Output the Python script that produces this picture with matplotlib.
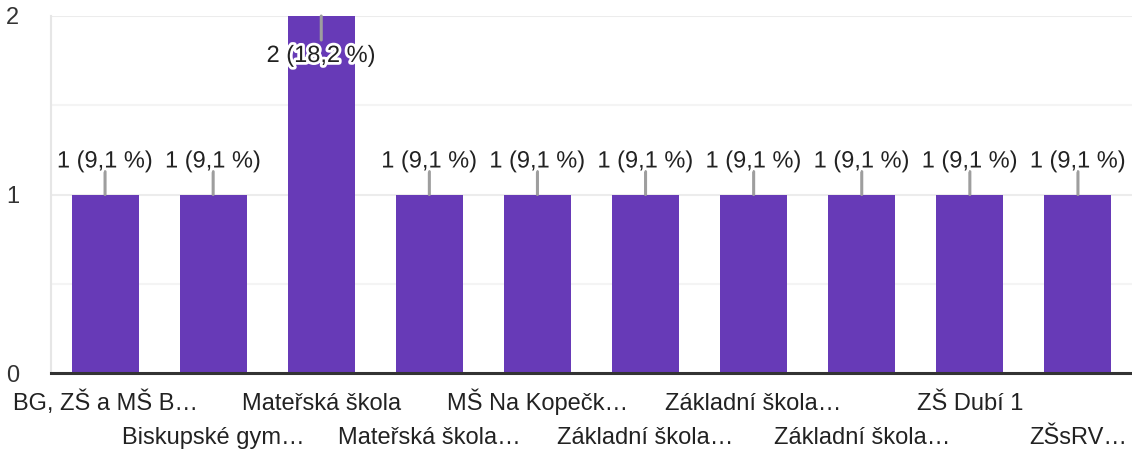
import matplotlib.pyplot as plt
import matplotlib.patheffects as pe
import numpy as np

plt.rcParams['font.family'] = ['Liberation Sans', 'DejaVu Sans']

# data
labels = ["BG, ZŠ a MŠ B…", "Biskupské gym…", "Mateřská škola", "Mateřská škola…",
          "MŠ Na Kopečk…", "Základní škola…", "Základní škola…", "Základní škola…",
          "ZŠ Dubí 1", "ZŠsRV…"]
counts = [1, 1, 2, 1, 1, 1, 1, 1, 1, 1]
total = sum(counts)

C_BAR = "#673ab7"
C_TEXT = "#222222"

fig = plt.figure(figsize=(11.32, 4.5), dpi=100)
ax = fig.add_axes([51 / 1132, 77 / 450, 1081 / 1132, 357 / 450])

x = np.arange(len(counts))
ax.bar(x, counts, width=0.62, color=C_BAR, zorder=3)

ax.set_xlim(-0.5, len(counts) - 0.5)
ax.set_ylim(0, 2)

# grid
for g in [0.5, 1.5]:
    ax.axhline(g, color="#f4f4f4", lw=1.5, zorder=1)
for g in [1, 2]:
    ax.axhline(g, color="#ececec", lw=1.5, zorder=1)

for s in ["top", "right"]:
    ax.spines[s].set_visible(False)
ax.spines["left"].set_color("#e6e6e6")
ax.spines["left"].set_linewidth(1.5)
ax.spines["bottom"].set_color("#333333")
ax.spines["bottom"].set_linewidth(2.2)
ax.spines["bottom"].set_zorder(4)

ax.set_yticks([0, 1, 2])
ax.set_yticklabels(["0", "1", "2"], fontsize=17, color="#333333")
ax.tick_params(axis="y", length=0, pad=23)

ax.set_xticks(x)
ax.set_xticklabels([])
ax.tick_params(axis="x", length=0)
for i, lab in enumerate(labels):
    off = 37 if i % 2 == 0 else 71
    ax.annotate(lab, xy=(i, 0), xytext=(0, -off), textcoords="offset pixels",
                ha="center", va="baseline", fontsize=17, color=C_TEXT,
                annotation_clip=False)

# value labels
ymax = max(counts)
for i, v in enumerate(counts):
    pct = v / total * 100
    txt = f"{v} ({pct:.1f} %)".replace(".", ",")
    if v < ymax:
        line_end, text_off = 23, 27
    else:
        line_end, text_off = -24, -46
    ax.annotate("", xy=(i, v), xytext=(0, line_end), textcoords="offset pixels",
                arrowprops=dict(arrowstyle="-", color="#9e9e9e", lw=2.2,
                                shrinkA=0, shrinkB=0), zorder=5)
    t = ax.annotate(txt, xy=(i, v), xytext=(0, text_off), textcoords="offset pixels",
                    ha="center", va="baseline", fontsize=17, color=C_TEXT, zorder=6,
                    annotation_clip=False)
    t.set_path_effects([pe.withStroke(linewidth=4, foreground="white")])

fig.savefig("out.png", dpi=100, facecolor="white")
